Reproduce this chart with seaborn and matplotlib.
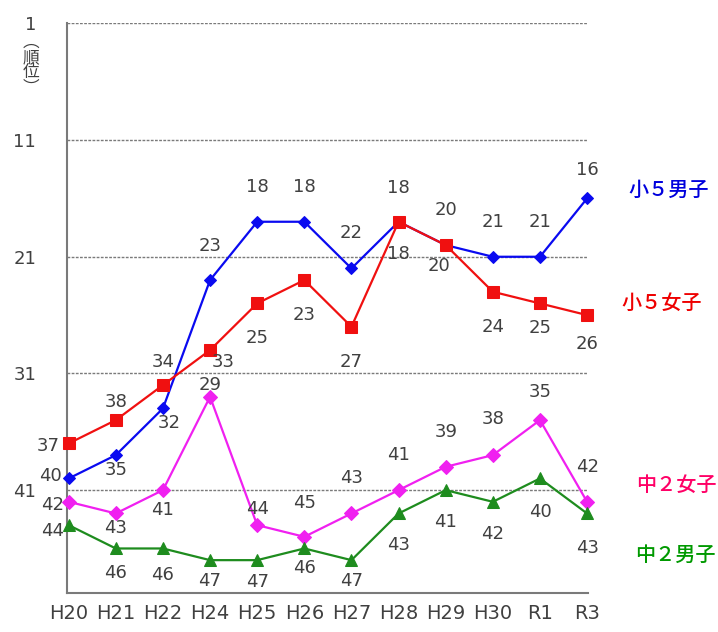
import matplotlib
matplotlib.use("Agg")
import matplotlib.pyplot as plt
import seaborn as sns
import numpy as np
import pandas as pd

# ---------------- data ----------------
years = ["H20", "H21", "H22", "H24", "H25", "H26", "H27", "H28", "H29", "H30", "R1", "R3"]

# plotted rank positions (as drawn in the reference)
boys5 = [40, 38, 34, 23, 18, 18, 22, 18, 20, 21, 21, 16]
girls5 = [37, 35, 32, 29, 25, 23, 27, 18, 20, 24, 25, 26]
girls8 = [42, 43, 41, 33, 44, 45, 43, 41, 39, 38, 35, 42]
boys8 = [44, 46, 46, 47, 47, 46, 47, 43, 41, 42, 40, 43]

# data label texts (as printed in the reference)
boys5_lbl = ["40", "35", "32", "23", "18", "18", "22", "18", "20", "21", "21", "16"]
girls5_lbl = ["37", "38", "34", "33", "25", "23", "27", "18", "20", "24", "25", "26"]
girls8_lbl = ["42", "43", "41", "29", "44", "45", "43", "41", "39", "38", "35", "42"]
boys8_lbl = ["44", "46", "46", "47", "47", "46", "47", "43", "41", "42", "40", "43"]

series_names = ["小５男子", "小５女子", "中２女子", "中２男子"]
yticks = [1, 11, 21, 31, 41]

# ---------------- styling ----------------
sns.set_theme(style="white")
plt.rcParams['font.family'] = ['DejaVu Sans', 'Noto Sans CJK JP']

fig = plt.figure(figsize=(7.18, 6.32), dpi=100)
ax = fig.add_axes([0.093, 0.062, 0.726, 0.901])

x = np.arange(len(years))
styles = [
    dict(vals=boys5, lbl=boys5_lbl, color="#0A0AF0", marker="D", ms=6.5,
         off=[(-18, 2), (0, -15), (6, -15), (0, 34), (0, 35), (0, 35), (0, 35),
              (0, 34), (0, 35), (0, 35), (0, 35), (0, 28)]),
    dict(vals=girls5, lbl=girls5_lbl, color="#F01010", marker="s", ms=8.5,
         off=[(-20, -3), (0, 18), (0, 23), (13, -12), (0, -35), (0, -35), (0, -35),
              (0, -32), (-7, -21), (0, -35), (0, -25), (0, -29)]),
    dict(vals=girls8, lbl=girls8_lbl, color="#F020F0", marker="D", ms=7,
         off=[(-16, -3), (0, -15), (0, -20), (0, 12), (0, 16), (0, 34), (0, 35),
              (0, 35), (0, 35), (0, 36), (0, 28), (0, 35)]),
    dict(vals=boys8, lbl=boys8_lbl, color="#1E8C1E", marker="^", ms=9,
         off=[(-16, -6), (0, -25), (0, -27), (0, -21), (0, -22), (0, -20), (0, -21),
              (0, -32), (0, -32), (0, -32), (0, -34), (0, -35)]),
]

for name, st in zip(series_names, styles):
    df = pd.DataFrame({"x": x, "rank": st["vals"]})
    sns.lineplot(data=df, x="x", y="rank", ax=ax, color=st["color"], marker=st["marker"],
                 markersize=st["ms"], markeredgecolor=st["color"], linewidth=1.6,
                 zorder=3, clip_on=False)
    for xi, yi, t, (dx, dy) in zip(x, st["vals"], st["lbl"], st["off"]):
        ax.annotate(t, (xi, yi), xytext=(dx, dy), textcoords="offset pixels",
                    ha="center", va="center", fontsize=13, color="#404040", zorder=4)

ax.set_xlim(-0.04, 11.02)
ax.set_ylim(49.8, 1)
ax.set_yticks(yticks)
ax.set_yticklabels([str(v) for v in yticks])
ax.set_xticks(x)
ax.set_xticklabels(years)
ax.tick_params(axis="y", length=0, pad=22, labelsize=13, labelcolor="#404040")
ax.tick_params(axis="x", length=0, pad=8, labelsize=14, labelcolor="#404040")
ax.set_xlabel("")
ax.set_ylabel("")

ax.yaxis.grid(True, color="#7a7a7a", linestyle=(0, (2, 1)), linewidth=1.0)
ax.xaxis.grid(False)
for s in ["top", "right"]:
    ax.spines[s].set_visible(False)
for s in ["left", "bottom"]:
    ax.spines[s].set_color("#7a7a7a")
    ax.spines[s].set_linewidth(1.5)

# vertical axis caption
fig.text(31 / 718, 1 - 65 / 632, "︵\n順\n位\n︶", ha="center", va="center",
         fontsize=12, color="#404040", linespacing=0.88,
         family=["Noto Sans CJK JP", "DejaVu Sans"])

# series labels at the right
label_pos = [(669, 190), (662, 303), (676, 485), (675, 555)]
label_cols = ["#0000DD", "#EE0000", "#FF0066", "#009900"]
for name, (px, py), c in zip(series_names, label_pos, label_cols):
    fig.text(px / 718, 1 - py / 632, name, ha="center", va="center", fontsize=14.5,
             color=c, fontweight="medium", family=["Noto Sans CJK JP", "DejaVu Sans"])

fig.savefig("out.png", dpi=100)
